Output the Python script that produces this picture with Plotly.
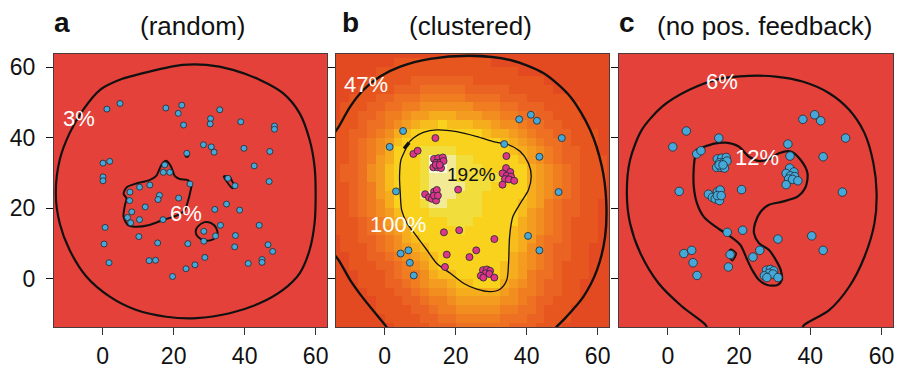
import numpy as np
import plotly.graph_objects as go

# ---------------- data ----------------
# panel a (random) points
a_x = [1.2,4.9,17.8,22.3,21.3,33.0,30.4,30.3,22.8,38.9,48.4,48.4,0.1,2.0,0.1,0.1,23.7,28.4,30.6,31.4,
       39.8,47.1,42.7,17.5,17.1,18.9,35.3,37.3,46.9,24.6,7.7,10.4,13.3,16.0,15.6,21.4,7.6,12.0,8.2,7.0,
       7.9,10.4,17.0,31.6,34.9,38.6,33.2,28.5,31.8,28.5,44.1,0.7,37.4,10.2,0.4,15.5,24.0,37.2,46.6,47.9,
       1.8,13.1,14.9,28.8,26.0,23.5,41.0,44.9,44.9,19.7]
a_y = [48.1,49.7,48.4,49.2,46.9,47.9,45.4,43.9,43.6,44.5,43.3,42.4,32.8,33.3,28.9,27.8,35.6,38.0,37.4,35.9,
       37.0,36.1,32.0,32.3,30.2,30.2,28.5,26.4,27.6,26.9,24.6,26.0,26.6,23.7,22.5,22.9,22.2,20.4,19.0,17.4,
       15.9,16.8,16.8,19.7,21.2,19.5,15.2,13.5,12.2,10.7,15.2,14.6,12.3,12.0,9.9,10.2,10.0,9.1,9.7,7.8,
       4.6,5.2,5.3,6.1,4.0,2.9,4.4,5.5,4.7,0.7]

# panel b/c points: blue and pink in b; all blue in c
b_blue_x = [5.2,1.4,37.9,41.2,42.9,49.9,33.7,43.6,3.2,49.0,40.4,43.6,4.5,6.7,7.1,8.2]
b_blue_y = [41.9,37.4,45.2,46.5,44.8,39.9,38.2,34.6,24.8,24.6,12.2,8.1,7.2,8.1,4.6,1.0]
b_pink_x = [14.3,8.1,9.3,
            13.9,15.1,16.4,14.5,15.6,16.6,13.7,14.9,15.9,14.4,15.5,
            11.4,12.5,13.3,14.5,13.9,14.7,13.9,15.0,
            20.7,34.3,
            34.2,35.4,33.2,34.4,35.6,33.9,35.0,36.5,33.2,
            16.7,21.0,30.9,17.5,25.8,23.9,17.0,
            27.7,28.8,29.7,28.4,29.5,27.1,27.8,30.9]
b_pink_y = [39.9,35.4,36.3,
            34.0,34.2,34.4,32.9,32.9,33.4,31.6,31.6,31.4,32.3,32.3,
            24.0,23.1,22.7,22.2,24.7,25.2,23.6,23.6,
            25.3,34.8,
            31.4,30.3,29.9,29.2,29.0,28.3,28.2,27.8,26.7,
            13.2,13.8,11.3,6.9,8.1,6.2,3.4,
            2.5,2.7,2.3,1.6,1.4,0.9,0.4,0.4]

# contour lines
a_outer_x = [-13.2,-12.1,-9.3,-5.5,-0.8,4.8,13.2,22.6,29.2,36.7,44.2,50.8,55.5,58.3,59.7,60.0,59.7,58.3,55.5,50.8,
             44.2,35.8,26.4,17.9,9.5,2.0,-4.6,-9.3,-12.1,-13.2]
a_outer_y = [24.3,33.7,41.3,47.9,53.5,56.4,58.7,60.6,60.6,59.2,56.4,52.6,46.9,39.4,31.8,24.3,15.8,8.2,1.6,-3.1,
             -6.9,-9.7,-11.1,-10.7,-8.8,-5.0,0.7,8.2,15.8,24.3]
a_blob_x = [17.9,19.3,20.3,21.7,24.0,25.0,24.7,24.0,23.1,21.2,17.0,13.2,9.0,7.1,5.9,6.2,6.7,5.9,6.8,9.7,13.2,15.1,16.3,17.0,17.9]
a_blob_y = [33.5,31.8,29.2,28.3,28.0,26.6,24.7,21.9,19.5,18.1,16.7,15.3,14.8,15.3,17.6,20.5,22.9,24.1,26.0,27.1,28.0,29.2,31.8,32.9,33.5]
a_ring_x = [26.8,28.7,30.6,32.0,32.3,31.1,28.7,26.8,26.2,26.8]
a_ring_y = [14.8,16.1,15.8,14.4,12.5,11.2,10.9,12.0,13.4,14.8]
a_sliver_x = [34.1,35.8,36.5,37.5,36.5,35.3,34.1]
a_sliver_y = [29.0,29.0,27.6,26.1,25.7,27.1,29.0]
a_dot_x = [23.5,24.2,24.0,23.4,23.5]
a_dot_y = [35.4,35.3,34.6,34.7,35.4]

b_outer_x = [-15.5,-13.0,-9.7,-6.0,-1.3,4.4,12.8,24.1,35.4,44.7,52.3,57.9,61.2,62.4,62.1,59.8,56.0,50.4,48.5,47.3]
b_outer_y = [39.5,43.0,48.8,53.5,57.3,60.1,62.3,63.2,62.0,58.3,51.6,42.2,31.8,22.4,12.0,2.5,-5.0,-11.6,-13.5,-15.0]
b_low_x = [-15.5,-13.0,-9.7,-6.0,-2.2,0.1,1.2]
b_low_y = [8.5,5.4,-0.3,-5.5,-10.2,-13.0,-14.6]
b_in_x = [6.4,5.8,4.6,4.2,4.4,4.8,6.3,9.1,11.9,14.7,18.5,22.2,26.0,29.7,32.5,34.4,34.9,35.2,36.1,38.2,40.5,
          41.3,40.5,38.2,34.9,30.6,26.0,20.3,14.7,10.9,8.1,6.4]
b_in_y = [38.0,36.5,33.7,29.0,24.3,19.5,15.8,12.0,8.2,4.4,1.6,-1.2,-2.9,-3.6,-2.9,-0.3,4.4,12.0,17.6,21.4,25.2,
          29.0,32.8,36.1,38.0,38.9,40.3,41.7,42.2,41.5,39.9,38.0]
b_mark_x = [5.5,6.9]
b_mark_y = [36.9,38.6]

c_outer_x = [11.2,10.6,4.0,-2.6,-7.7,-10.6,-11.5,-10.6,-7.3,-1.6,5.9,14.3,22.8,30.3,37.8,45.3,50.9,55.2,57.7,58.6,
             58.0,55.2,50.9,45.3,38.3,37.4]
c_outer_y = [-14.5,-13.0,-7.8,-1.2,7.3,15.8,24.3,33.7,42.2,48.8,53.5,56.6,57.5,57.3,55.9,52.6,47.9,41.3,32.8,24.3,
             15.8,6.3,-2.2,-8.8,-13.0,-14.5]
c_in_x = [8.0,9.8,13.4,16.2,19.9,22.8,25.6,28.4,31.2,34.5,37.3,39.2,38.7,36.4,32.2,28.4,26.1,24.5,24.2,25.6,28.4,
          30.3,31.7,32.0,30.8,27.9,25.6,23.7,22.3,20.4,17.6,13.4,10.1,8.2,7.3,7.3,7.7,8.0]
c_in_y = [36.5,37.3,38.4,38.6,37.5,34.6,33.4,33.9,35.6,36.1,33.7,29.9,26.1,23.3,21.9,21.0,19.1,15.8,12.9,10.1,8.2,
          5.4,2.5,-0.3,-1.7,-1.7,-0.3,2.5,5.4,9.6,12.0,14.8,17.6,21.4,26.1,31.8,35.1,36.5]
c_dia_x = [17.6,19.2,18.1,17.0,17.6]
c_dia_y = [8.4,7.3,5.2,7.0,8.4]

tick_vals = [0, 20, 40, 60]
tick_text = ["0", "20", "40", "60"]

# ---------------- figure ----------------
RED = "#E4413A"
BLUE = "#45A8D8"
PINK = "#DE358A"
FONT = "Liberation Sans, Arial, sans-serif"

fig = go.Figure()

# density surface for panel b, computed from its infected (pink) points
px_ = np.array(b_pink_x)
py_ = np.array(b_pink_y)

def surface(X, Y):
    X = np.asarray(X, float)
    Y = np.asarray(Y, float)
    d2 = (X[..., None] - px_) ** 2 + (Y[..., None] - py_) ** 2
    broad = np.exp(-d2 / (2 * 12.0 ** 2)).sum(-1) / 30.0
    narrow = np.exp(-d2 / (2 * 2.2 ** 2)).sum(-1) / 8.0
    return broad + 0.25 * narrow

gx = np.arange(-16.25, 66, 2.5)
gy = np.arange(-16.25, 66, 2.5)
GX, GY = np.meshgrid(gx, gy)
val = surface(GX, GY)
t_out = float(np.median(surface(b_outer_x[2:-4], b_outer_y[2:-4])))
t_in = float(np.median(surface(b_in_x, b_in_y)))
vmax = float(val.max())
thr = list(np.linspace(t_out, t_in, 9)) + [t_in + (vmax - t_in) * f for f in (0.45, 0.7, 0.88)]
lev = np.digitize(val, thr).astype(float)
cols = ["#E44A22", "#E8561F", "#EB6322", "#EE7022", "#F07E21", "#F28D20", "#F49C1F",
        "#F5AC1D", "#F7BD1C", "#F8D21C", "#F1DE3C", "#F3EA95", "#FDF9DC"]
n = len(cols)
cs = []
for i, c in enumerate(cols):
    cs.append([i / n, c])
    cs.append([(i + 1) / n, c])
fig.add_trace(go.Heatmap(x=gx, y=gy, z=lev, colorscale=cs, zmin=-0.5, zmax=n - 0.5,
                         showscale=False, zsmooth=False, xaxis="x2", yaxis="y2", hoverinfo="skip"))

def line(xs, ys, ax, w=2.2):
    fig.add_trace(go.Scatter(x=xs, y=ys, mode="lines", xaxis="x" + ax, yaxis="y" + ax,
                             line=dict(color="#111111", width=w, shape="spline", smoothing=0.8),
                             hoverinfo="skip", showlegend=False))

def pts(xs, ys, ax, color, size):
    fig.add_trace(go.Scatter(x=xs, y=ys, mode="markers", xaxis="x" + ax, yaxis="y" + ax,
                             marker=dict(color=color, size=size, line=dict(color="#1b2a33", width=0.8)),
                             hoverinfo="skip", showlegend=False))

# panel a
line(a_outer_x, a_outer_y, "")
line(a_blob_x, a_blob_y, "", 2.0)
line(a_ring_x, a_ring_y, "", 2.0)
line(a_sliver_x, a_sliver_y, "", 1.8)
line(a_dot_x, a_dot_y, "", 2.0)
pts(a_x, a_y, "", BLUE, 6)

# panel b
line(b_outer_x, b_outer_y, "2", 2.4)
line(b_low_x, b_low_y, "2", 2.4)
line(b_in_x, b_in_y, "2", 1.3)
line(b_mark_x, b_mark_y, "2", 3.5)
pts(b_blue_x, b_blue_y, "2", BLUE, 7)
pts(b_pink_x, b_pink_y, "2", PINK, 7)

# panel c
line(c_outer_x, c_outer_y, "3", 2.2)
line(c_in_x, c_in_y, "3", 2.2)
line(c_dia_x, c_dia_y, "3", 1.6)
pts(b_blue_x + b_pink_x, b_blue_y + b_pink_y, "3", BLUE, 8.5)

W, H = 897, 368
xdom = [[54 / W, 327 / W], [336 / W, 609 / W], [619 / W, 893 / W]]
ydom = [1 - 327 / H, 1 - 54 / H]
XR = [-13.7, 63.2]
YR = [-13.6, 63.7]

layout = dict(width=W, height=H, margin=dict(l=0, r=0, t=0, b=0, autoexpand=False),
              paper_bgcolor="white", plot_bgcolor=RED, showlegend=False,
              font=dict(family=FONT, color="#111111"))
for i, nm in enumerate(["", "2", "3"]):
    layout["xaxis" + nm] = dict(domain=xdom[i], range=XR, showgrid=False, zeroline=False,
                                tickmode="array", tickvals=tick_vals, ticktext=tick_text,
                                ticks="outside", ticklen=7, tickcolor="#333", tickwidth=1,
                                showline=True, mirror=True, linecolor="#4a3a3a", linewidth=1,
                                tickfont=dict(size=23, family=FONT, color="#111"),
                                ticklabelstandoff=1, automargin=False,
                                anchor="y" + nm, fixedrange=True)
    layout["yaxis" + nm] = dict(domain=ydom, range=YR, showgrid=False, zeroline=False,
                                tickmode="array", tickvals=tick_vals, ticktext=tick_text,
                                ticks="outside", ticklen=7, tickcolor="#111", tickwidth=1,
                                showline=True, mirror=True, linecolor="#4a3a3a", linewidth=1,
                                showticklabels=(i == 0),
                                tickfont=dict(size=23, family=FONT, color="#111"),
                                ticklabelstandoff=6, automargin=False,
                                anchor="x" + nm, fixedrange=True)
fig.update_layout(**layout)

ann = []
def lab(text, x, y, ax, color="white", size=22):
    ann.append(dict(text=text, x=x, y=y, xref="x" + ax, yref="y" + ax, showarrow=False,
                    font=dict(size=size, color=color, family=FONT)))
lab("3%", -6.7, 45.5, "")
lab("6%", 23.6, 18.6, "")
lab("47%", -5.2, 55.2, "2")
lab("192%", 24.6, 29.5, "2", color="#111111", size=19)
lab("100%", 3.9, 15.3, "2")
lab("6%", 15.3, 55.9, "3")
lab("12%", 25.1, 34.5, "3")

def title(text, xp, yp, size, bold=False):
    ann.append(dict(text=("<b>%s</b>" % text) if bold else text, x=xp / W, y=1 - yp / H,
                    xref="paper", yref="paper", showarrow=False, xanchor="center", yanchor="middle",
                    font=dict(size=size, color="#111111", family=FONT)))
title("a", 62, 22, 28, True)
title("(random)", 192, 26, 26)
title("b", 350, 22, 28, True)
title("(clustered)", 470, 26, 26)
title("c", 627, 22, 28, True)
title("(no pos. feedback)", 764, 26, 26)
fig.update_layout(annotations=ann)

fig.write_html("out.html", config={"displayModeBar": False},
               post_script="document.body.style.margin='0';document.body.style.overflow='hidden';")
